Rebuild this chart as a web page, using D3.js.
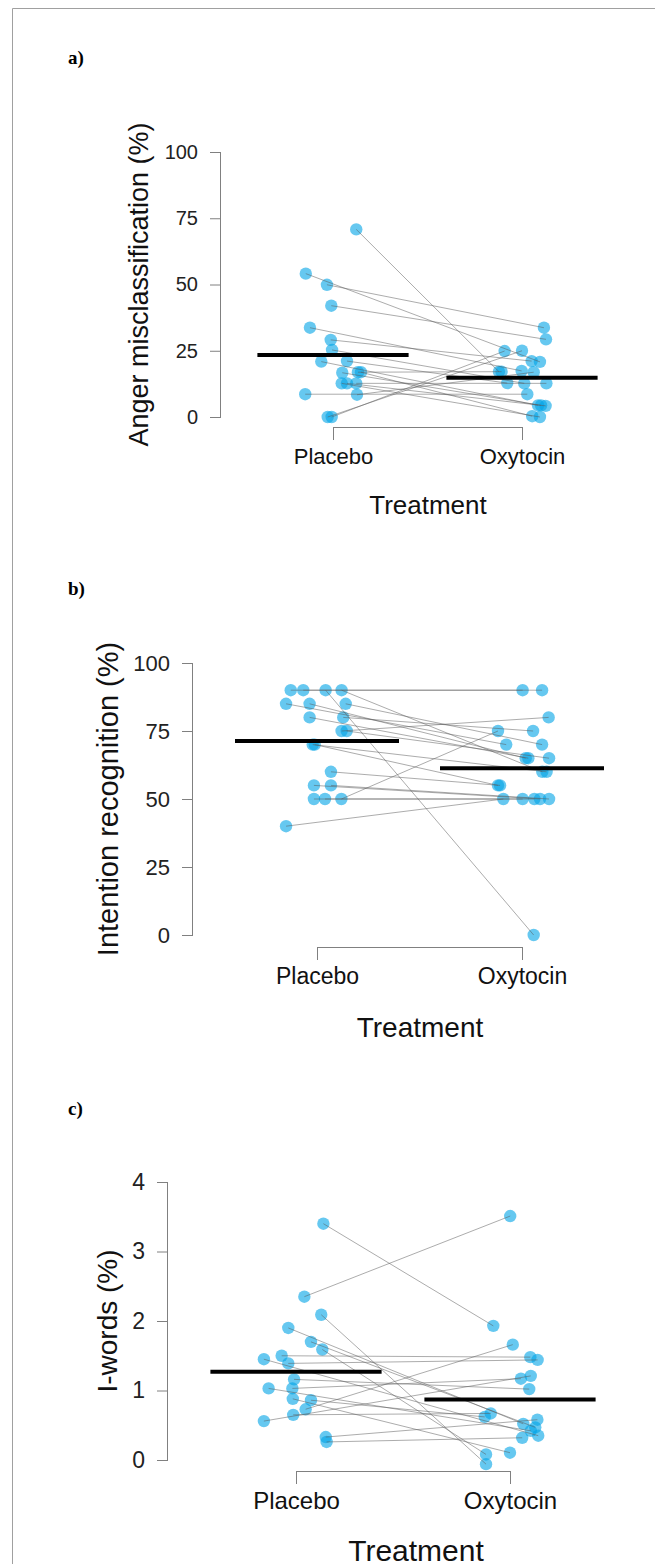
<!DOCTYPE html>
<html>
<head>
<meta charset="utf-8">
<script src="https://cdn.jsdelivr.net/npm/d3@7"></script>
<style>
  body { margin: 0; background: #fff; }
  svg { display: block; }
</style>
</head>
<body>
<div id="chart"></div>
<script>
//////////////////////////////////////////////////////////////////////////////
// Data (one row per participant, paired)

var groups = ["Placebo", "Oxytocin"];

// a) Anger misclassification (%)
var angerPlacebo = [70.8, 54.1, 49.9, 42.0, 33.7, 29.1, 25.3, 20.9, 21.1, 16.9, 16.9, 16.7, 12.7, 12.7, 12.7, 8.6, 8.4, 0, 0];
var angerOxytocin = [17.1, 20.8, 33.7, 29.3, 17.4, 21.1, 12.7, 4.4, 12.8, 17.1, 0.3, 4.4, 0, 4.2, 12.7, 8.6, 16.9, 25.0, 24.9];
var angerJitterP = [0.123, -0.144, -0.032, -0.009, -0.122, -0.012, -0.005, -0.062, 0.074, 0.132, 0.148, 0.049, 0.046, 0.074, 0.123, -0.147, 0.127, -0.028, -0.007];
var angerJitterO = [-0.122, 0.095, 0.116, 0.127, -0.002, 0.051, 0.012, 0.085, -0.078, -0.108, 0.054, 0.101, 0.095, 0.125, 0.129, 0.028, 0.062, 0, -0.092];
var angerMeans = [23.4, 14.8];
var angerTicks = [0, 25, 50, 75, 100];

// b) Intention recognition (%)
var intentPlacebo = [90, 90, 90, 90, 85, 85, 85, 80, 80, 75, 75, 70, 70, 60, 55, 55, 50, 50, 50, 40];
var intentOxytocin = [90, 90, 0, 60, 70, 65, 70, 65, 75, 80, 65, 60, 55, 55, 50, 50, 50, 50, 75, 50];
var intentJitterP = [-0.128, -0.067, 0.042, 0.120, -0.151, -0.036, 0.140, -0.036, 0.128, 0.120, 0.145, -0.021, -0.011, 0.068, -0.015, 0.068, -0.015, 0.039, 0.119, -0.151];
var intentJitterO = [0.003, 0.098, 0.057, 0.099, -0.077, 0.018, 0.098, 0.031, 0.054, 0.130, 0.132, 0.120, -0.117, -0.107, 0.088, 0.132, 0.003, 0.060, -0.117, -0.091];
var intentMeans = [71.3, 61.3];
var intentTicks = [0, 25, 50, 75, 100];

// c) I-words (%)
var iwordPlacebo = [3.40, 2.35, 2.09, 1.90, 1.70, 1.59, 1.50, 1.45, 1.39, 1.16, 1.03, 1.03, 0.88, 0.86, 0.73, 0.65, 0.56, 0.33, 0.26];
var iwordOxytocin = [1.93, 3.51, -0.06, 0.52, 0.47, 0.08, 1.48, 0.35, 1.44, 1.02, 0.42, 1.17, 0.105, 0.62, 1.66, 0.67, 1.21, 0.58, 0.32];
var iwordJitterP = [0.128, 0.039, 0.118, -0.036, 0.070, 0.123, -0.067, -0.150, -0.036, -0.009, -0.128, -0.017, -0.015, 0.070, 0.045, -0.013, -0.150, 0.139, 0.143];
var iwordJitterO = [-0.078, 0.001, -0.112, 0.062, 0.118, -0.112, 0.095, 0.132, 0.129, 0.090, 0.097, 0.051, 0, -0.118, 0.013, -0.090, 0.097, 0.128, 0.057];
var iwordMeans = [1.27, 0.87];
var iwordTicks = [0, 1, 2, 3, 4];

//////////////////////////////////////////////////////////////////////////////
// Global variables, preliminaries

var width = 655, height = 1564;
var pointFill = "rgb(0,163,230)";
var axisGrey = "#808080";
var font = "Liberation Sans, Arial, sans-serif";

var svg = d3.select("#chart")
    .append("svg")
    .attr("width", width)
    .attr("height", height);

// page frame (left and top edges only)
svg.append("path")
    .attr("d", "M12.5," + height + "V8.5H" + width)
    .attr("fill", "none")
    .attr("stroke", "#a0a0a0")
    .attr("stroke-width", 1);

function pairs(p, o, jp, jo)
{
    return p.map(function(v, i) {
        return { p: v, o: o[i], jp: jp[i], jo: jo[i] };
    });
}

function drawPanel(cfg)
{
    var g = svg.append("g");
    var data = pairs(cfg.placebo, cfg.oxytocin, cfg.jitterP, cfg.jitterO);

    var x = d3.scaleLinear().domain([1, 2]).range(cfg.xRange);
    var y = d3.scaleLinear().domain(d3.extent(cfg.ticks)).range(cfg.yRange);

    // panel letter
    g.append("text")
        .attr("x", 68).attr("y", cfg.letterY)
        .attr("font-family", "Liberation Serif, Times New Roman, serif")
        .attr("font-weight", "bold")
        .attr("font-size", 19)
        .text(cfg.letter);

    // y axis, R style: line only between first and last tick
    var yAxis = g.append("g")
        .attr("transform", "translate(" + cfg.axisX + ",0)")
        .call(d3.axisLeft(y).tickValues(cfg.ticks).tickSize(11).tickPadding(12)
              .tickFormat(d3.format("d")));
    yAxis.select(".domain").attr("d", "M-0.5," + y.range()[0] + "V" + y.range()[1]);
    yAxis.selectAll("line, path").attr("stroke", axisGrey);
    yAxis.selectAll("text")
        .attr("font-family", font)
        .attr("font-size", cfg.tickSize)
        .attr("fill", "#222");

    // x axis bracket
    var xAxis = g.append("g")
        .attr("transform", "translate(0," + cfg.bracketY + ")")
        .call(d3.axisBottom(x).tickValues([1, 2]).tickSize(13).tickPadding(8)
              .tickFormat(function(d) { return groups[d - 1]; }));
    xAxis.select(".domain").attr("d", "M" + x(1) + ",0.5H" + x(2));
    xAxis.selectAll("line, path").attr("stroke", axisGrey);
    xAxis.selectAll("text")
        .attr("font-family", font)
        .attr("font-size", cfg.catSize)
        .attr("fill", "#111");

    // axis titles
    g.append("text")
        .attr("transform", "translate(" + cfg.titleX + "," + d3.mean(cfg.yRange) + ") rotate(-90)")
        .attr("text-anchor", "middle")
        .attr("font-family", font)
        .attr("font-size", cfg.titleSize)
        .attr("fill", "#111")
        .text(cfg.yTitle);

    g.append("text")
        .attr("x", cfg.xTitleX)
        .attr("y", cfg.bracketY + cfg.xTitleDy)
        .attr("text-anchor", "middle")
        .attr("font-family", font)
        .attr("font-size", cfg.xTitleSize)
        .attr("fill", "#111")
        .text("Treatment");

    // points
    var pts = g.append("g");
    pts.selectAll("circle.p")
        .data(data).enter().append("circle")
        .attr("cx", function(d) { return x(1 + d.jp); })
        .attr("cy", function(d) { return y(d.p); })
        .attr("r", 6.2)
        .attr("fill", pointFill)
        .attr("fill-opacity", 0.6);
    pts.selectAll("circle.o")
        .data(data).enter().append("circle")
        .attr("cx", function(d) { return x(2 + d.jo); })
        .attr("cy", function(d) { return y(d.o); })
        .attr("r", 6.2)
        .attr("fill", pointFill)
        .attr("fill-opacity", 0.6);

    // paired lines
    g.append("g")
        .selectAll("line")
        .data(data).enter().append("line")
        .attr("x1", function(d) { return x(1 + d.jp); })
        .attr("y1", function(d) { return y(d.p); })
        .attr("x2", function(d) { return x(2 + d.jo); })
        .attr("y2", function(d) { return y(d.o); })
        .attr("stroke", "rgba(90,90,90,0.5)")
        .attr("stroke-width", 1);

    // group means
    g.append("g")
        .selectAll("line")
        .data(cfg.means).enter().append("line")
        .attr("x1", function(d, i) { return x(i + 1 - 0.4); })
        .attr("x2", function(d, i) { return x(i + 1 + 0.4); })
        .attr("y1", function(d) { return y(d); })
        .attr("y2", function(d) { return y(d); })
        .attr("stroke", "#000")
        .attr("stroke-width", 4);
}

//////////////////////////////////////////////////////////////////////////////

drawPanel({
    letter: "a)", letterY: 64,
    placebo: angerPlacebo, oxytocin: angerOxytocin,
    jitterP: angerJitterP, jitterO: angerJitterO,
    means: angerMeans, ticks: angerTicks,
    xRange: [333, 522], yRange: [417, 152],
    axisX: 221, bracketY: 427,
    tickSize: 20, catSize: 22, titleSize: 27, xTitleSize: 26,
    titleX: 148, yTitle: "Anger misclassification (%)",
    xTitleX: 428, xTitleDy: 87
});

drawPanel({
    letter: "b)", letterY: 595,
    placebo: intentPlacebo, oxytocin: intentOxytocin,
    jitterP: intentJitterP, jitterO: intentJitterO,
    means: intentMeans, ticks: intentTicks,
    xRange: [317, 522], yRange: [935, 663],
    axisX: 193, bracketY: 947,
    tickSize: 22, catSize: 23, titleSize: 29, xTitleSize: 28,
    titleX: 118, yTitle: "Intention recognition (%)",
    xTitleX: 420, xTitleDy: 90
});

drawPanel({
    letter: "c)", letterY: 1115,
    placebo: iwordPlacebo, oxytocin: iwordOxytocin,
    jitterP: iwordJitterP, jitterO: iwordJitterO,
    means: iwordMeans, ticks: iwordTicks,
    xRange: [296, 510], yRange: [1460, 1182],
    axisX: 168, bracketY: 1471,
    tickSize: 23, catSize: 24, titleSize: 28, xTitleSize: 30,
    titleX: 117, yTitle: "I-words (%)",
    xTitleX: 416, xTitleDy: 90
});
</script>
</body>
</html>
